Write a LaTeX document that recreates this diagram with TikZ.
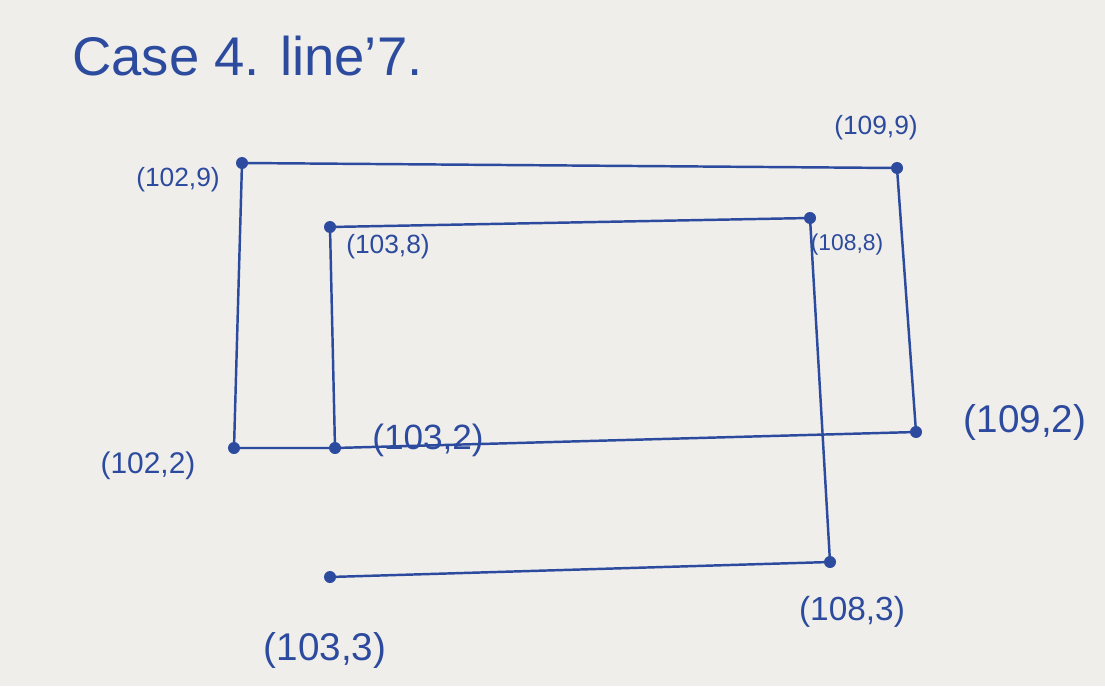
\documentclass[tikz,border=0pt]{standalone}
\usepackage{fontspec}
\setmainfont{Liberation Sans}
\definecolor{paper}{HTML}{EFEEEB}
\definecolor{ink}{HTML}{2C4A9E}
\begin{document}
\begin{tikzpicture}[x=0.02cm,y=-0.02cm,
  dot/.style={circle,fill=ink,inner sep=0pt,minimum size=0.24cm},
  seg/.style={draw=ink,line width=1.4pt},
  lbl/.style={text=ink,inner sep=0pt}]
\fill[paper] (0,0) rectangle (1105,686);
\useasboundingbox (0,0) rectangle (1105,686);
% title
\node[lbl,anchor=base west,font=\fontsize{31}{37}\selectfont] (title) at (72,76) {Case 4. line'7.};
% points
\node[dot] (a) at (242,163) {};
\node[dot] (b) at (897,168) {};
\node[dot] (c) at (330,227) {};
\node[dot] (d) at (810,218) {};
\node[dot] (e) at (234,448) {};
\node[dot] (f) at (335,448) {};
\node[dot] (g) at (916,432) {};
\node[dot] (h) at (830,562) {};
\node[dot] (i) at (330,577) {};
% segments
\draw[seg] (a.center) -- (b.center) -- (g.center) -- (f.center) -- (e.center) -- (a.center);
\draw[seg] (f.center) -- (c.center) -- (d.center) -- (h.center) -- (i.center);
% labels
\node[lbl,font=\fontsize{15}{18}\selectfont] (la) at (178,180) {(102,9)};
\node[lbl,font=\fontsize{15}{18}\selectfont] (lb) at (876,128) {(109,9)};
\node[lbl,font=\fontsize{15}{18}\selectfont] (lc) at (388,247) {(103,8)};
\node[lbl,font=\fontsize{13}{16}\selectfont] (ld) at (847,245) {(108,8)};
\node[lbl,font=\fontsize{20}{24}\selectfont] (lf) at (428,440) {(103,2)};
\node[lbl,font=\fontsize{17}{20}\selectfont] (le) at (148,466) {(102,2)};
\node[lbl,font=\fontsize{22}{26}\selectfont] (lg) at (1025,422) {(109,2)};
\node[lbl,font=\fontsize{19}{23}\selectfont] (lh) at (852,612) {(108,3)};
\node[lbl,font=\fontsize{22}{26}\selectfont] (li) at (325,650) {(103,3)};
\end{tikzpicture}
\end{document}
